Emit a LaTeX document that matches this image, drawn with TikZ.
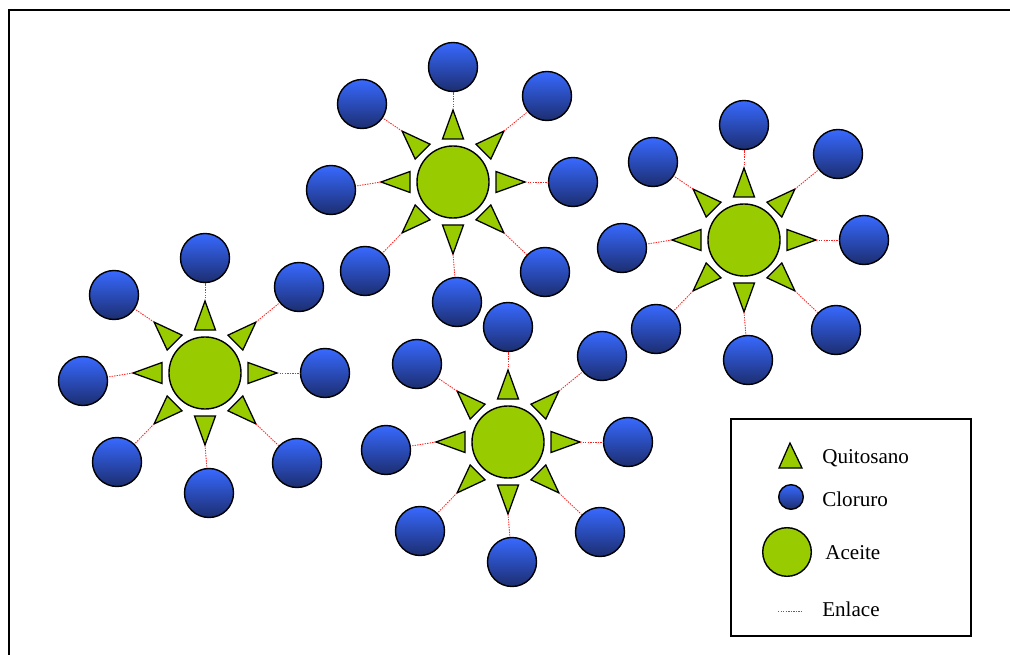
\documentclass[tikz,border=0pt]{standalone}
\usepackage{fontspec}
\setmainfont{Liberation Serif}
\usetikzlibrary{positioning}
\definecolor{OilGreen}{HTML}{99CC00}
\definecolor{IonTop}{HTML}{3869FF}
\definecolor{IonBottom}{HTML}{1C2E70}
\definecolor{BondRed}{HTML}{FF2020}

% one oil droplet with its chitosan crown and chloride ions
\newcommand{\droplet}[3]{%
  \begin{scope}[shift={(#2,#3)}]
    \foreach \ang/\dx/\dy/\pos in {0/120/0/r,45/94/-86/tr,90/0/-115/t,135/-91/-78/tl,
                                  180/-122/8/l,225/-88/89/bl,270/4/120/b,315/92/90/br}{
      \node[ion] (#1-\pos) at (\dx,\dy) {};
      \begin{scope}[rotate=\ang]
        \coordinate (#1-tip-\pos) at (72,0);
        \draw[chito] (72,0) -- (43,10.5) -- (43,-10.5) -- cycle;
      \end{scope}
      \draw[bond] (#1-tip-\pos) -- (#1-\pos);
    }
    \node[oil] (#1) at (0,0) {};
  \end{scope}}

\begin{document}
\begin{tikzpicture}[
    x=0.025cm, y=-0.025cm,
    font=\fontsize{15}{18}\selectfont,
    oil/.style={circle,draw=black,fill=OilGreen,line width=1pt,minimum size=1.8cm,inner sep=0pt},
    ion/.style={circle,draw=black,top color=IonTop,bottom color=IonBottom,line width=1pt,minimum size=1.225cm,inner sep=0pt},
    chito/.style={draw=black,fill=OilGreen,line width=0.9pt,line join=miter},
    bond/.style={draw=BondRed,line width=0.6pt,dash pattern=on 1pt off 0.8pt},
    legtext/.style={anchor=base west,inner sep=0pt}
  ]
  \useasboundingbox (0,0) rectangle (1010,655);
  \draw[line width=1.4pt] (1010,10) -- (9,10) -- (9,655);

  \droplet{dA}{205}{373}
  \droplet{dB}{453}{182}
  \droplet{dC}{744}{240}
  \droplet{dD}{508}{442}

  % legend
  \node[draw=black,line width=1.3pt,minimum width=6cm,minimum height=5.425cm,inner sep=0pt] (legend) at (851,527.5) {};
  \draw[chito] (790,443) -- (802,468) -- (779,468) -- cycle;
  \node[legtext] (qlabel) at (822,463) {Quitosano};
  \node[ion,minimum size=0.615cm] (cl) at (791,497) {};
  \node[legtext] (clabel) at (822,506) {Cloruro};
  \node[oil,minimum size=1.215cm] (ac) at (787,552) {};
  \node[legtext] (alabel) at (825,559) {Aceite};
  \coordinate (e1) at (778,611);
  \coordinate (e2) at (801,611);
  \draw[bond] (e1) -- (e2);
  \node[legtext] (elabel) at (822,616) {Enlace};
\end{tikzpicture}
\end{document}
